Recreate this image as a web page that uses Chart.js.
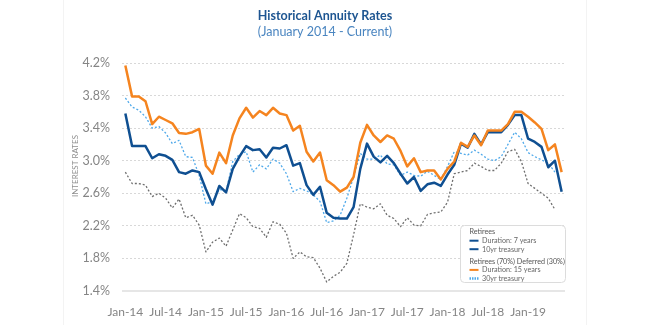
<!DOCTYPE html>
<html>
<head>
<meta charset="utf-8">
<script src="https://cdn.jsdelivr.net/npm/chart.js@4.4.0/dist/chart.umd.min.js"></script>
<style>
  html, body { margin: 0; padding: 0; background: #fff; }
  #wrap { position: relative; width: 650px; height: 325px; }
</style>
</head>
<body>
<div id="wrap"><canvas id="chart" width="650" height="325"></canvas></div>
<script>
// Historical annuity rates, monthly Jan-14 .. Jun-19
const meses = [
  'Jan-14','Feb-14','Mar-14','Apr-14','May-14','Jun-14','Jul-14','Aug-14','Sep-14','Oct-14','Nov-14','Dec-14',
  'Jan-15','Feb-15','Mar-15','Apr-15','May-15','Jun-15','Jul-15','Aug-15','Sep-15','Oct-15','Nov-15','Dec-15',
  'Jan-16','Feb-16','Mar-16','Apr-16','May-16','Jun-16','Jul-16','Aug-16','Sep-16','Oct-16','Nov-16','Dec-16',
  'Jan-17','Feb-17','Mar-17','Apr-17','May-17','Jun-17','Jul-17','Aug-17','Sep-17','Oct-17','Nov-17','Dec-17',
  'Jan-18','Feb-18','Mar-18','Apr-18','May-18','Jun-18','Jul-18','Aug-18','Sep-18','Oct-18','Nov-18','Dec-18',
  'Jan-19','Feb-19','Mar-19','Apr-19','May-19','Jun-19'
];

const duracao15 = [
  4.17, 3.79, 3.79, 3.73, 3.45, 3.54, 3.50, 3.46, 3.34, 3.33, 3.35, 3.39,
  2.94, 2.84, 3.10, 2.97, 3.31, 3.52, 3.65, 3.53, 3.61, 3.56, 3.65, 3.58,
  3.56, 3.37, 3.43, 3.11, 2.99, 3.10, 2.76, 2.70, 2.62, 2.67, 2.80, 3.22,
  3.44, 3.31, 3.23, 3.31, 3.27, 3.12, 2.93, 3.03, 2.86, 2.88, 2.88, 2.77,
  2.90, 2.99, 3.22, 3.17, 3.31, 3.19, 3.37, 3.37, 3.37, 3.45, 3.60, 3.60,
  3.54, 3.47, 3.39, 3.13, 3.20, 2.86
];

const duracao7 = [
  3.58, 3.18, 3.18, 3.18, 3.03, 3.08, 3.06, 3.01, 2.86, 2.84, 2.88, 2.86,
  2.65, 2.46, 2.69, 2.61, 2.90, 3.05, 3.18, 3.13, 3.14, 3.04, 3.16, 3.15,
  3.19, 2.94, 2.97, 2.70, 2.58, 2.68, 2.36, 2.30, 2.29, 2.29, 2.43, 2.90,
  3.21, 3.05, 2.98, 3.06, 2.97, 2.84, 2.72, 2.80, 2.63, 2.71, 2.73, 2.69,
  2.83, 2.95, 3.21, 3.16, 3.33, 3.20, 3.35, 3.35, 3.35, 3.44, 3.56, 3.56,
  3.27, 3.23, 3.17, 2.92, 3.00, 2.62
];

const tesouro30 = [
  3.77, 3.66, 3.62, 3.54, 3.40, 3.42, 3.34, 3.21, 3.25, 3.05, 3.04, 2.82,
  2.47, 2.50, 2.65, 2.62, 2.99, 3.08, 3.11, 2.86, 2.95, 2.90, 3.02, 2.97,
  2.84, 2.62, 2.66, 2.63, 2.58, 2.50, 2.24, 2.26, 2.33, 2.54, 2.80, 3.09,
  3.02, 3.02, 3.07, 2.96, 2.95, 2.82, 2.86, 2.82, 2.81, 2.87, 2.82, 2.77,
  2.93, 3.11, 3.09, 3.07, 3.13, 3.08, 3.02, 3.00, 3.05, 3.20, 3.35, 3.27,
  3.10, 3.05, 3.01, 2.97, 2.86, null
];

const tesouro10 = [
  2.86, 2.72, 2.72, 2.70, 2.56, 2.60, 2.54, 2.42, 2.53, 2.30, 2.33, 2.21,
  1.88, 2.00, 2.05, 1.95, 2.15, 2.35, 2.30, 2.19, 2.17, 2.06, 2.25, 2.22,
  2.11, 1.80, 1.88, 1.82, 1.81, 1.68, 1.51, 1.58, 1.63, 1.74, 2.09, 2.47,
  2.43, 2.41, 2.47, 2.33, 2.29, 2.19, 2.30, 2.21, 2.20, 2.34, 2.36, 2.37,
  2.49, 2.84, 2.86, 2.88, 2.97, 2.93, 2.88, 2.88, 2.97, 3.11, 3.14, 2.99,
  2.72, 2.66, 2.60, 2.54, 2.40, null
];

const titulo = 'Historical Annuity Rates';
const subtitulo = '(January 2014 - Current)';
const tituloEixoY = 'INTEREST RATES';

const cores = {
    laranja: '#f5841f',
    azulEscuro: '#0f4f91',
    azulClaro: '#4fa9ea',
    cinza: '#6f6f6f'
};

// grupos da legenda (cabecalho + itens)
const legendaGrupos = [
    { titulo: 'Retirees', itens: [
        { texto: 'Duration: 7 years', cor: cores.azulEscuro, tracejado: false },
        { texto: '10yr treasury', cor: cores.azulEscuro, tracejado: false }
    ]},
    { titulo: 'Retirees (70%) Deferred (30%)', itens: [
        { texto: 'Duration: 15 years', cor: cores.laranja, tracejado: false },
        { texto: '30yr treasury', cor: cores.azulClaro, tracejado: true }
    ]}
];

const decoracao = {
    id: 'decoracao',
    beforeDraw(chart) {
        const c = chart.ctx;
        c.save();
        c.strokeStyle = '#f3f3f3';
        c.lineWidth = 1;
        [63.5, 586.5].forEach(x => {
            c.beginPath(); c.moveTo(x, 0); c.lineTo(x, 325); c.stroke();
        });
        c.restore();
    },
    afterDraw(chart) {
        const c = chart.ctx;
        const a = chart.chartArea;
        c.save();
        c.textAlign = 'center';
        c.textBaseline = 'middle';
        c.fillStyle = '#1d5591';
        c.font = 'bold 12.5px Lato';
        c.fillText(titulo, 325, 16);
        c.fillStyle = '#4a85c0';
        c.font = '12.5px Lato';
        c.fillText(subtitulo, 325, 32);

        c.save();
        c.translate(75, 166);
        c.rotate(-Math.PI / 2);
        c.fillStyle = '#8f8f8f';
        c.font = '8px Lato';
        c.fillText(tituloEixoY, 0, 0);
        c.restore();

        // caixa da legenda
        const x0 = a.right - 104.5, y0 = a.bottom - 65.5, w = 105, h = 57, r = 4;
        c.beginPath();
        c.moveTo(x0 + r, y0);
        c.lineTo(x0 + w - r, y0); c.quadraticCurveTo(x0 + w, y0, x0 + w, y0 + r);
        c.lineTo(x0 + w, y0 + h - r); c.quadraticCurveTo(x0 + w, y0 + h, x0 + w - r, y0 + h);
        c.lineTo(x0 + r, y0 + h); c.quadraticCurveTo(x0, y0 + h, x0, y0 + h - r);
        c.lineTo(x0, y0 + r); c.quadraticCurveTo(x0, y0, x0 + r, y0);
        c.closePath();
        c.fillStyle = '#fff';
        c.fill();
        c.strokeStyle = '#dcdcdc';
        c.lineWidth = 1;
        c.stroke();

        c.textAlign = 'left';
        let y = y0 + 6.5;
        legendaGrupos.forEach((g, gi) => {
            if (gi > 0) y += 3.5;
            c.fillStyle = '#555';
            c.font = '7.2px Lato';
            c.fillText(g.titulo, x0 + 9, y);
            y += 8.7;
            g.itens.forEach(it => {
                c.strokeStyle = it.cor;
                c.lineWidth = it.tracejado ? 2.5 : 2;
                c.setLineDash(it.tracejado ? [1.5, 1] : []);
                c.beginPath();
                c.moveTo(x0 + 9, y); c.lineTo(x0 + 18, y);
                c.stroke();
                c.setLineDash([]);
                c.fillStyle = '#666';
                c.fillText(it.texto, x0 + 21.5, y);
                y += 8.5;
            });
        });
        c.restore();
    }
};

const ctx = document.getElementById('chart').getContext('2d');
new Chart(ctx, {
    type: 'line',
    data: {
        labels: meses,
        datasets: [
            { label: 'Duration: 15 years', data: duracao15, borderColor: cores.laranja, borderWidth: 2.5 },
            { label: 'Duration: 7 years', data: duracao7, borderColor: cores.azulEscuro, borderWidth: 2.5 },
            { label: '30yr treasury', data: tesouro30, borderColor: cores.azulClaro, borderWidth: 1.3, borderDash: [2, 2] },
            { label: '10yr treasury', data: tesouro10, borderColor: cores.cinza, borderWidth: 1.3, borderDash: [2, 2] }
        ]
    },
    options: {
        responsive: false,
        animation: false,
        elements: {
            point: { radius: 0 },
            line: { tension: 0, fill: false, borderJoinStyle: 'round' }
        },
        layout: { padding: { top: 63, left: 0, right: 85, bottom: 0 } },
        plugins: {
            legend: { display: false },
            title: { display: false },
            tooltip: { enabled: false }
        },
        scales: {
            x: {
                offset: true,
                grid: { display: false },
                border: { display: false },
                afterFit(scale) { scale.height = 34; },
                ticks: {
                    autoSkip: false,
                    maxRotation: 0,
                    padding: 6,
                    color: '#858585',
                    font: { family: 'Lato', size: 12 },
                    callback(v, i) { return i % 6 === 0 ? meses[i] : ''; }
                }
            },
            y: {
                min: 1.4,
                max: 4.2,
                afterFit(scale) { scale.width = 122; },
                border: {
                    display: false,
                    dash: c => (c.tick && Math.abs(c.tick.value - 1.4) < 1e-6) ? [] : [2, 2]
                },
                grid: {
                    drawTicks: false,
                    color: c => (c.tick && Math.abs(c.tick.value - 1.4) < 1e-6) ? '#e6e6e6' : '#d8d8d8',
                    lineWidth: c => (c.tick && Math.abs(c.tick.value - 1.4) < 1e-6) ? 2 : 1
                },
                ticks: {
                    stepSize: 0.4,
                    padding: 12,
                    color: '#858585',
                    font: { family: 'Lato', size: 12.5 },
                    callback: v => v.toFixed(1) + '%'
                }
            }
        }
    },
    plugins: [decoracao]
});
</script>
</body>
</html>
